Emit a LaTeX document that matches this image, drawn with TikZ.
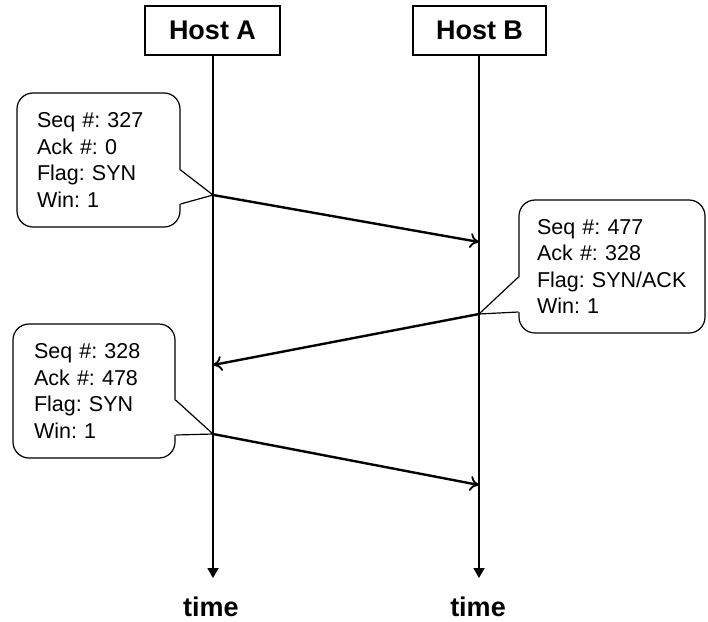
\documentclass[tikz,border=0pt]{standalone}
\usepackage{fontspec}
\setmainfont{Liberation Sans}
\frenchspacing
\usetikzlibrary{arrows.meta,calc}
\begin{document}
\begin{tikzpicture}[x=1pt,y=-1pt,
  hostbox/.style={draw,line width=1.6pt,minimum width=#1,minimum height=49pt,inner sep=0pt,font=\fontsize{27}{30}\selectfont\bfseries},
  timelabel/.style={inner sep=0pt,font=\fontsize{27}{30}\selectfont\bfseries},
  lifeline/.style={line width=1.8pt,-{Triangle[length=10pt,width=11pt]}},
  msg/.style={line width=2.4pt,-{To[length=9pt,width=15pt,line width=1.8pt]}},
  callout/.style={draw,line width=1.2pt,fill=white,rounded corners=16pt,inner sep=0pt,
     text width=#1,align=left,font=\fontsize{21.5}{26.5}\selectfont},
  ptr/.style={line width=1.2pt}
]
\useasboundingbox (0,0) rectangle (708,621);

% callouts
\node[callout=123pt,minimum width=163pt,minimum height=134pt] (c1) at (98.5,160)
  {Seq \#: 327\\Ack \#: 0\\Flag: SYN\\Win: 1};
\node[callout=150pt,minimum width=186pt,minimum height=133pt] (c2) at (612,266.5)
  {Seq \#: 477\\Ack \#: 328\\Flag: SYN/ACK\\Win: 1};
\node[callout=120pt,minimum width=162pt,minimum height=134pt] (c3) at (94,391)
  {Seq \#: 328\\Ack \#: 478\\Flag: SYN\\Win: 1};

% hosts
\node[hostbox=135pt] (ha) at (212.5,30.5) {Host A};
\node[hostbox=133pt] (hb) at (479.5,30.5) {Host B};
\node[timelabel] (ta) at (211,607) {time};
\node[timelabel] (tb) at (478,607) {time};

\coordinate (aend) at (213,578);
\coordinate (bend) at (479,578);
\coordinate (A1) at (213,195);
\coordinate (B1) at (479,242);
\coordinate (B2) at (479,314);
\coordinate (A2) at (213,365);
\coordinate (A3) at (213,434);
\coordinate (B3) at (479,485);

% pointers
\coordinate (p1a) at ([yshift=-10pt]c1.east);
\coordinate (p1b) at ([yshift=-44pt]c1.east);
\fill[white] ([xshift=-1.5pt]p1a) -- (A1) -- ([xshift=-1.5pt]p1b) -- cycle;
\draw[ptr] (p1a) -- (A1) -- (p1b);

\coordinate (p2a) at ([yshift=-10.5pt]c2.west);
\coordinate (p2b) at ([yshift=-45.5pt]c2.west);
\fill[white] ([xshift=1.5pt]p2a) -- (B2) -- ([xshift=1.5pt]p2b) -- cycle;
\draw[ptr] (p2a) -- (B2) -- (p2b);

\coordinate (p3a) at ([yshift=-9pt]c3.east);
\coordinate (p3b) at ([yshift=-44pt]c3.east);
\fill[white] ([xshift=-1.5pt]p3a) -- (A3) -- ([xshift=-1.5pt]p3b) -- cycle;
\draw[ptr] (p3a) -- (A3) -- (p3b);

% lifelines
\draw[lifeline] (ha.south -| aend) -- (aend);
\draw[lifeline] (hb.south -| bend) -- (bend);

% messages
\draw[msg] (A1) -- (B1);
\draw[msg] (B2) -- (A2);
\draw[msg] (A3) -- (B3);
\end{tikzpicture}
\end{document}
